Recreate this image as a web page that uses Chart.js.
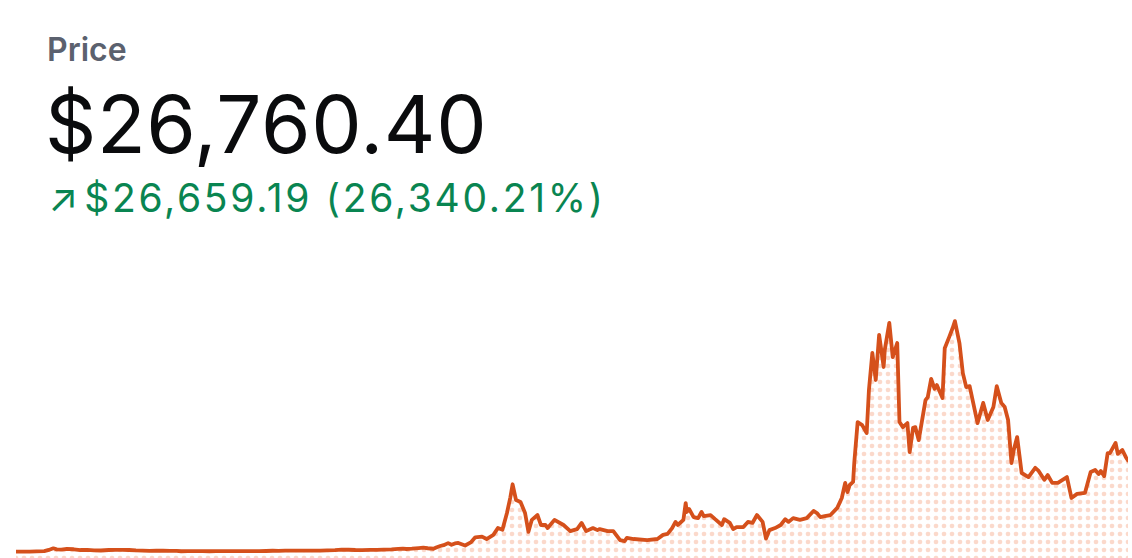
<!DOCTYPE html>
<html>
<head>
<meta charset="utf-8">
<script src="https://cdn.jsdelivr.net/npm/chart.js@4/dist/chart.umd.min.js"></script>
<style>
  html, body { margin: 0; padding: 0; background: #fff; }
  body { width: 1132px; height: 558px; position: relative; overflow: hidden; font-family: Inter, "Noto Sans", sans-serif; }
  #label { position: absolute; left: 47px; top: 34px; font-size: 32px; font-weight: 600; color: #5b616e; line-height: 1; }
  #value { position: absolute; left: 45px; top: 84px; font-size: 80px; font-weight: 400; color: #0a0b0d; line-height: 1; letter-spacing: 0.6px; }
  #change { position: absolute; left: 48px; top: 178px; font-size: 39px; font-weight: 400; color: #098551; line-height: 1; letter-spacing: 2.7px; white-space: nowrap; }
  #arrow { letter-spacing: 0; margin-right: 6px; }
  #wrap { position: absolute; left: 0; top: 300px; width: 1132px; height: 258px; }
</style>
</head>
<body>
<div id="label">Price</div>
<div id="value"></div>
<div id="change"><span id="arrow">&#8599;</span><span id="delta"></span></div>
<div id="wrap"><canvas id="myChart" width="1132" height="258"></canvas></div>
<script>
// header texts
var priceText = '$26,760.40';
var changeText = '$26,659.19 (26,340.21%)';

// decimal year of each sample
var years = [
    2013.58, 2013.63, 2013.70, 2013.76, 2013.83, 2013.87, 2013.91, 2013.94, 2013.98,
    2014.03, 2014.09, 2014.15, 2014.21, 2014.27, 2014.33, 2014.40, 2014.46, 2014.52, 2014.58, 2014.64, 2014.70, 2014.76, 2014.82, 2014.88, 2014.94,
    2015.00, 2015.04, 2015.10, 2015.17, 2015.23, 2015.29, 2015.35, 2015.42, 2015.48, 2015.54, 2015.60, 2015.66, 2015.73, 2015.79, 2015.85, 2015.90, 2015.96,
    2016.02, 2016.08, 2016.15, 2016.21, 2016.27, 2016.33, 2016.40, 2016.46, 2016.52, 2016.58, 2016.64, 2016.71, 2016.77, 2016.83, 2016.90, 2016.96,
    2017.00, 2017.03, 2017.08, 2017.14, 2017.18, 2017.22, 2017.27, 2017.30, 2017.33, 2017.36, 2017.40, 2017.43, 2017.46, 2017.49, 2017.55, 2017.60, 2017.64, 2017.70, 2017.74, 2017.80, 2017.84, 2017.88, 2017.92, 2017.95, 2017.97,
    2018.00, 2018.04, 2018.08, 2018.11, 2018.14, 2018.19, 2018.22, 2018.26, 2018.28, 2018.34, 2018.42, 2018.48, 2018.54, 2018.58, 2018.62, 2018.68, 2018.72, 2018.74, 2018.81, 2018.86, 2018.92, 2018.96, 2018.98,
    2019.04, 2019.16, 2019.25, 2019.30, 2019.34, 2019.38, 2019.41, 2019.43, 2019.48, 2019.50, 2019.51, 2019.53, 2019.57, 2019.61, 2019.64, 2019.66, 2019.72, 2019.76, 2019.82, 2019.84, 2019.89, 2019.92, 2019.95,
    2020.01, 2020.05, 2020.09, 2020.13, 2020.18, 2020.21, 2020.24, 2020.29, 2020.34, 2020.38, 2020.41, 2020.45, 2020.51, 2020.57, 2020.63, 2020.66, 2020.69, 2020.73, 2020.78, 2020.84, 2020.88, 2020.91, 2020.93, 2020.95, 2020.98, 2020.99,
    2021.02, 2021.06, 2021.10, 2021.12, 2021.15, 2021.18, 2021.21, 2021.25, 2021.26, 2021.30, 2021.33, 2021.37, 2021.39, 2021.42, 2021.46, 2021.48, 2021.51, 2021.53, 2021.56, 2021.62, 2021.64, 2021.67, 2021.70, 2021.72, 2021.77, 2021.79, 2021.83, 2021.86, 2021.88, 2021.92, 2021.95, 2021.98,
    2022.01, 2022.08, 2022.13, 2022.17, 2022.22, 2022.25, 2022.29, 2022.32, 2022.35, 2022.38, 2022.40, 2022.43, 2022.47, 2022.53, 2022.59, 2022.62, 2022.67, 2022.70, 2022.74, 2022.79, 2022.87, 2022.91, 2022.96,
    2023.03, 2023.08, 2023.12, 2023.15, 2023.17, 2023.20, 2023.23, 2023.25, 2023.30, 2023.32, 2023.36, 2023.39, 2023.41
];

// price in USD at each sample
var prices = [
    101.21, 118, 135, 160, 240, 600, 1080, 760, 720,
    900, 800, 580, 600, 460, 440, 590, 600, 620, 590, 480, 430, 330, 360, 370, 330,
    310, 220, 235, 265, 250, 225, 240, 230, 255, 285, 265, 230, 240, 290, 370, 330, 430,
    420, 380, 430, 415, 425, 450, 530, 700, 660, 580, 575, 610, 620, 710, 740, 900,
    1000, 880, 980, 1150, 1250, 1100, 950, 1400, 1750, 2000, 2600, 2100, 2500, 2650, 1900, 2800, 4300, 4500, 3800, 5000, 7000, 6500, 11400, 16000, 19800,
    15200, 14600, 11400, 5900, 9400, 10800, 7900, 7900, 7000, 9400, 7900, 6100, 6700, 8500, 6100, 7000, 6400, 6700, 6100, 6100, 3500, 3200, 4100,
    3800, 3500, 3800, 5000, 5300, 7000, 8800, 7900, 9400, 14300, 11700, 12600, 10200, 9900, 11700, 10500, 10800, 9600, 7900, 9600, 8500, 6700, 7300,
    7300, 8800, 8500, 10800, 8800, 3900, 6400, 7000, 7900, 9600, 8800, 9900, 9400, 9900, 12000, 11400, 10200, 10500, 10800, 12900, 15800, 20200, 17500, 19600, 20500, 26000,
    38000, 37100, 34800, 47400, 58200, 50300, 63500, 54100, 59100, 67000, 57000, 61100, 38000, 36500, 37700, 29200, 36300, 36500, 32700, 44400, 45300, 50600, 47700, 48800, 45000, 59600, 62900, 65500, 67500, 61100, 52300, 48200,
    48500, 37700, 43600, 38600, 42400, 48500, 43600, 42400, 38600, 26000, 29800, 33600, 23100, 21900, 24600, 23700, 21100, 22500, 20200, 20200, 21900, 15800, 17000,
    17300, 23400, 24000, 22800, 23700, 22200, 28900, 28900, 31900, 28700, 29800, 27800, 26760.40
];

document.getElementById('value').textContent = priceText;
document.getElementById('delta').textContent = changeText;

// dotted fill pattern
function dotPattern(color) {
    var tile = document.createElement('canvas');
    tile.width = 8;
    tile.height = 8;
    var tctx = tile.getContext('2d');
    tctx.fillStyle = color;
    [-8, 0, 8].forEach(function (dx) {
        [-8, 0, 8].forEach(function (dy) {
            tctx.beginPath();
            tctx.arc(0 + dx, 2 + dy, 2.3, 0, Math.PI * 2);
            tctx.fill();
        });
    });
    var c = document.getElementById('myChart').getContext('2d');
    return c.createPattern(tile, 'repeat');
}

var points = years.map(function (y, i) {
    return { x: y, y: prices[i] };
});

var ctx = document.getElementById('myChart');
var config = {
    type: 'line',
    data: {
        datasets: [{
            label: 'Price',
            data: points,
            borderColor: '#d5501b',
            borderWidth: 3.8,
            borderJoinStyle: 'round',
            borderCapStyle: 'round',
            pointRadius: 0,
            tension: 0,
            fill: 'start',
            backgroundColor: dotPattern('rgba(240, 120, 70, 0.28)')
        }]
    },
    options: {
        responsive: false,
        animation: false,
        layout: { padding: { left: 16, right: 4, top: 0, bottom: 0 } },
        plugins: { legend: { display: false }, tooltip: { enabled: false } },
        scales: {
            x: { type: 'linear', display: false, min: years[0], max: years[years.length - 1] },
            y: { display: false, min: -1754, max: 73685 }
        }
    }
};
var currentChart = new Chart(ctx, config);
</script>
</body>
</html>
